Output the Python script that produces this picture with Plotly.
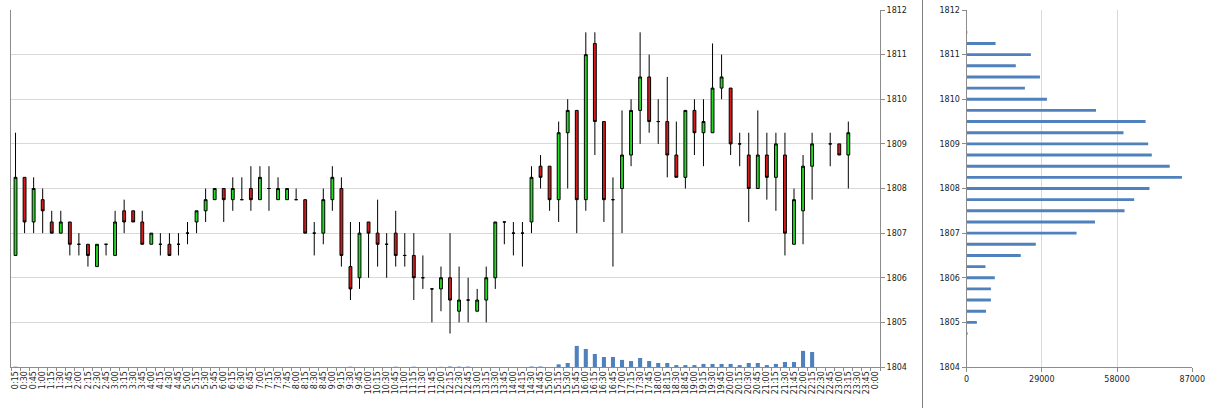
import plotly.graph_objects as go

# ---------------- data ----------------
times = []
for h in range(24):
    for m in (0, 15, 30, 45):
        if h == 0 and m == 0:
            continue
        times.append(f"{h}:{m:02d}")
times.append("0:00")

opens = [1806.5, 1808.25, 1807.25, 1807.75, 1807.25, 1807, 1807.25, 1806.75, 1806.75, 1806.25,
         1806.75, 1806.5, 1807.5, 1807.5, 1807.25, 1806.75, 1806.75, 1806.75, 1806.75, 1807,
         1807.25, 1807.5, 1807.75, 1808, 1807.75, 1807.75, 1808, 1807.75, 1808, 1807.75,
         1807.75, 1807.75, 1807.75, 1807, 1807, 1807.75, 1808, 1806.25, 1806, 1807.25,
         1807, 1806.75, 1807, 1806.5, 1806.5, 1806, 1805.75, 1805.75, 1806, 1805.25,
         1805.5, 1805.25, 1805.5, 1806, 1807.25, 1807, 1807, 1807.25, 1808.5, 1808.5,
         1807.75, 1809.25, 1809.75, 1807.75, 1811.25, 1809.5, 1807.75, 1808, 1808.75, 1809.75,
         1810.5, 1809.5, 1809.5, 1808.75, 1808.25, 1809.75, 1809.25, 1809.25, 1810.25, 1810.25,
         1809, 1808.75, 1808, 1808.75, 1808.25, 1808.75, 1806.75, 1807.5, 1808.5, None,
         1809, 1809, 1808.75, None, None, None]
highs = [1809.25, 1808.25, 1808.25, 1808, 1807.5, 1807.5, 1807.25, 1807, 1806.75, 1806.75,
         1806.75, 1807.5, 1807.75, 1807.5, 1807.5, 1807, 1807, 1807, 1807, 1807.25,
         1807.5, 1808, 1808, 1808, 1808.25, 1808.25, 1808.5, 1808.5, 1808.5, 1808.25,
         1808, 1808, 1807.75, 1807.25, 1808, 1808.5, 1808.25, 1807.25, 1807.25, 1807.25,
         1807.75, 1807, 1807.5, 1807, 1807, 1806.5, 1805.75, 1806.25, 1807, 1806.25,
         1806, 1805.75, 1806.25, 1807.25, 1807.25, 1807.25, 1807.25, 1808.5, 1808.75, 1808.5,
         1809.5, 1810, 1809.75, 1811.5, 1811.5, 1809.5, 1808.25, 1809.75, 1810, 1811.5,
         1811, 1810, 1810.5, 1809.5, 1809.75, 1810, 1810, 1811.25, 1811, 1810.25,
         1809.25, 1809.25, 1809.75, 1809.25, 1809.25, 1809.25, 1808, 1808.75, 1809.25, None,
         1809.25, 1809, 1809.5, None, None, None]
lows = [1806.5, 1807, 1807, 1807, 1807, 1807, 1806.5, 1806.5, 1806.25, 1806.25,
        1806.5, 1806.5, 1807, 1807.25, 1806.75, 1806.75, 1806.5, 1806.5, 1806.5, 1806.75,
        1807, 1807.25, 1807.75, 1807.25, 1807.5, 1807.75, 1807.5, 1807.75, 1807.5, 1807.75,
        1807.75, 1807.75, 1807, 1806.5, 1806.75, 1807.5, 1806.25, 1805.5, 1805.75, 1806,
        1806.25, 1806, 1806.25, 1806.25, 1805.5, 1805.75, 1805, 1805.25, 1804.75, 1805,
        1805, 1805.25, 1805, 1805.75, 1806.75, 1806.5, 1806.25, 1807, 1808, 1807.5,
        1807.25, 1808, 1807, 1807.5, 1808.75, 1807.25, 1806.25, 1807, 1808.5, 1809,
        1809.25, 1809, 1808.25, 1808.25, 1808, 1808.75, 1808.5, 1809.25, 1810, 1808.75,
        1808.5, 1807.25, 1808, 1807.75, 1807.5, 1806.5, 1806.75, 1806.75, 1807.75, None,
        1808.5, 1808.75, 1808, None, None, None]
closes = [1808.25, 1807.25, 1808, 1807.5, 1807, 1807.25, 1806.75, 1806.75, 1806.5, 1806.75,
          1806.75, 1807.25, 1807.25, 1807.25, 1806.75, 1807, 1806.75, 1806.5, 1806.75, 1807,
          1807.5, 1807.75, 1808, 1807.75, 1808, 1807.75, 1807.75, 1808.25, 1808, 1808,
          1808, 1807.75, 1807, 1807, 1807.75, 1808.25, 1806.5, 1805.75, 1807, 1807,
          1806.75, 1806.75, 1806.5, 1806.5, 1806, 1806, 1805.75, 1806, 1805.5, 1805.5,
          1805.5, 1805.5, 1806, 1807.25, 1807.25, 1807, 1807, 1808.25, 1808.25, 1807.75,
          1809.25, 1809.75, 1807.75, 1811, 1809.5, 1807.75, 1807.75, 1808.75, 1809.75, 1810.5,
          1809.5, 1809.5, 1808.75, 1808.25, 1809.75, 1809.25, 1809.5, 1810.25, 1810.5, 1809,
          1809, 1808, 1808.75, 1808.25, 1809, 1807, 1807.75, 1808.5, 1809, None,
          1809, 1808.75, 1809.25, None, None, None]

volumes = [1500, 0, 0, 0, 0, 0, 0, 0, 0, 0,
           0, 0, 0, 0, 0, 0, 0, 0, 0, 0,
           0, 0, 0, 0, 0, 0, 0, 0, 0, 0,
           0, 0, 0, 0, 0, 0, 0, 1500, 0, 0,
           0, 0, 1500, 0, 1500, 0, 0, 1000, 2500, 2000,
           2000, 0, 0, 0, 0, 0, 0, 2500, 2500, 0,
           14000, 21000, 110000, 94000, 68000, 52000, 52000, 37000, 31000, 47000,
           31000, 21000, 21000, 10000, 10000, 10000, 16000, 16000, 16000, 16000,
           10000, 21000, 21000, 10000, 16000, 26000, 26000, 84000, 78000, 0,
           0, 0, 0, 0, 0, 0]

profile_prices = [1804.75, 1805.0, 1805.25, 1805.5, 1805.75, 1806.0, 1806.25, 1806.5, 1806.75, 1807.0,
                  1807.25, 1807.5, 1807.75, 1808.0, 1808.25, 1808.5, 1808.75, 1809.0, 1809.25, 1809.5,
                  1809.75, 1810.0, 1810.25, 1810.5, 1810.75, 1811.0, 1811.25, 1811.5]
profile_volumes = [400, 4000, 7500, 9400, 9400, 10900, 7300, 20900, 26700, 42400,
                   49500, 60900, 64600, 70500, 83000, 78300, 71400, 70000, 60500, 69000,
                   49900, 31000, 22500, 28300, 19000, 24800, 11200, 300]

price_ticks = [1804, 1805, 1806, 1807, 1808, 1809, 1810, 1811, 1812]
profile_ticks = [0, 29000, 58000, 87000]

# ---------------- figure ----------------
W, H = 1211, 408
AXIS = "#8c8c8c"
GRID = "#d9d9d9"

def px_x(p):
    return p / W

def px_y(p):
    return (H - p) / H

fig = go.Figure()

fig.add_trace(go.Candlestick(
    x=times, open=opens, high=highs, low=lows, close=closes,
    increasing=dict(fillcolor="#22dd22", line=dict(color="#000000", width=1)),
    decreasing=dict(fillcolor="#d41c1c", line=dict(color="#000000", width=1)),
    whiskerwidth=0, xaxis="x", yaxis="y", showlegend=False,
))

fig.add_trace(go.Bar(
    x=times, y=volumes, marker=dict(color="#4f81bd", line=dict(width=0)),
    width=0.45, xaxis="x", yaxis="y2", showlegend=False,
))

fig.add_trace(go.Bar(
    y=profile_prices, x=profile_volumes, orientation="h",
    marker=dict(color="#4f81bd", line=dict(width=0)),
    width=0.065, xaxis="x3", yaxis="y3", showlegend=False,
))

font = dict(family="DejaVu Sans", size=8, color="#222222")

fig.update_layout(
    width=W, height=H,
    margin=dict(l=0, r=0, t=0, b=0, autoexpand=False),
    paper_bgcolor="white", plot_bgcolor="white",
    font=font, showlegend=False, boxgap=0.55, bargap=0.5,
    xaxis=dict(
        type="category", domain=[px_x(11), px_x(880)], anchor="y", automargin=False,
        range=[-0.5, len(times) - 0.5], rangeslider=dict(visible=False),
        showline=True, linecolor=AXIS, linewidth=1, showgrid=False,
        ticks="outside", tickson="boundaries", ticklen=3, tickcolor=AXIS,
        tickangle=-90, tickfont=font, tickmode="array", tickvals=times, ticktext=times,
        fixedrange=True,
    ),
    yaxis=dict(
        domain=[px_y(367), px_y(10)], anchor="x", side="right", automargin=False,
        range=[price_ticks[0], price_ticks[-1]], tickvals=price_ticks,
        showline=True, mirror=True, linecolor=AXIS, linewidth=1,
        showgrid=True, gridcolor=GRID, gridwidth=1, zeroline=False,
        ticks="outside", ticklen=4, tickcolor=AXIS, tickfont=font,
    ),
    yaxis2=dict(
        overlaying="y", range=[0, 1860000], visible=False, showgrid=False,
        automargin=False,
    ),
    xaxis3=dict(
        domain=[px_x(966.5), px_x(1192.3)], anchor="y3", automargin=False,
        range=[profile_ticks[0], profile_ticks[-1]], tickvals=profile_ticks,
        tickformat="d", showline=True, linecolor=AXIS, linewidth=1,
        showgrid=True, gridcolor=GRID, gridwidth=1, zeroline=False,
        ticks="outside", ticklen=4, tickcolor=AXIS, tickfont=font,
    ),
    yaxis3=dict(
        domain=[px_y(367), px_y(10)], anchor="x3", side="left", automargin=False,
        range=[price_ticks[0], price_ticks[-1]], tickvals=price_ticks,
        showline=True, linecolor=AXIS, linewidth=1, showgrid=False, zeroline=False,
        ticks="outside", ticklen=4, tickcolor=AXIS, tickfont=font,
    ),
    shapes=[dict(type="line", xref="paper", yref="paper",
                 x0=px_x(922.5), x1=px_x(922.5), y0=0, y1=1,
                 line=dict(color="#7f7f7f", width=1))],
)

fig.write_html(
    "out.html",
    config={"displayModeBar": False, "staticPlot": True},
    post_script="document.body.style.margin='0';document.body.style.overflow='hidden';",
)
